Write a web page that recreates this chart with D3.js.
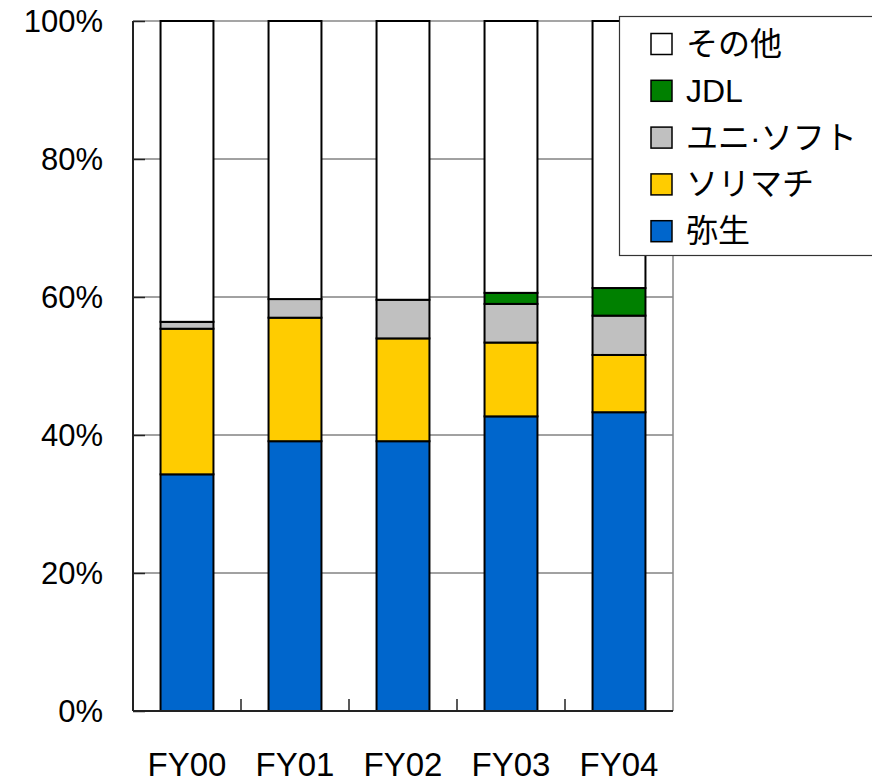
<!DOCTYPE html>
<meta charset="utf-8">
<title>Share</title>
<style>

body {
  margin: 0;
  background: #fff;
}

text {
  font-family: "Liberation Sans", Arial, "Noto Sans CJK JP", sans-serif;
  fill: #000;
}

</style>
<body>
<script src="https://cdn.jsdelivr.net/npm/d3@7"></script>
<script>

var years = ["FY00", "FY01", "FY02", "FY03", "FY04"];

var yayoi     = [34.3, 39.1, 39.1, 42.7, 43.3],
    sorimachi = [21.1, 17.9, 14.9, 10.7, 8.3],
    unisoft   = [1.0, 2.7, 5.6, 5.6, 5.7],
    jdl       = [0, 0, 0, 1.6, 4.0],
    other     = [43.6, 40.3, 40.4, 39.4, 38.7];

var seriesNames = ["弥生", "ソリマチ", "ユニ·ソフト", "JDL", "その他"],
    colors = ["#0066cc", "#ffcc00", "#c0c0c0", "#008000", "#ffffff"];

var yTicks = [0, 20, 40, 60, 80, 100];

var w = 872,
    h = 784,
    pLeft = 133,
    pRight = 673,
    pTop = 21,
    pBottom = 711;

var rows = years.map(function(y, i) {
  return {year: y, s0: yayoi[i], s1: sorimachi[i], s2: unisoft[i], s3: jdl[i], s4: other[i]};
});

var stack = d3.stack().keys(["s0", "s1", "s2", "s3", "s4"]);
var layers = stack(rows);

var x = d3.scaleBand().domain(years).range([pLeft, pRight]).paddingInner(0.51).paddingOuter(0.255);
var y = d3.scaleLinear().domain([0, 100]).range([pBottom, pTop]);

var svg = d3.select("body").append("svg")
    .attr("width", w)
    .attr("height", h);

// gridlines
svg.selectAll("line.grid")
    .data(yTicks.filter(function(d) { return d > 0 && d < 100; }))
  .enter().append("line")
    .attr("x1", pLeft).attr("x2", pRight)
    .attr("y1", y).attr("y2", y)
    .attr("stroke", "#444")
    .attr("stroke-width", 1);

// plot frame (top and right)
svg.append("path")
    .attr("d", "M" + pLeft + "," + pTop + "H" + pRight + "V" + pBottom)
    .attr("fill", "none")
    .attr("stroke", "#888")
    .attr("stroke-width", 1.5);

// bars
svg.selectAll("g.layer")
    .data(layers)
  .enter().append("g")
    .attr("fill", function(d, i) { return colors[i]; })
  .selectAll("rect")
    .data(function(d) { return d.filter(function(v) { return v[1] - v[0] > 0; }); })
  .enter().append("rect")
    .attr("x", function(d) { return x(d.data.year); })
    .attr("width", x.bandwidth())
    .attr("y", function(d) { return y(d[1]); })
    .attr("height", function(d) { return y(d[0]) - y(d[1]); })
    .attr("stroke", "#000")
    .attr("stroke-width", 2);

// y axis
var yAxis = svg.append("g")
    .attr("transform", "translate(" + pLeft + ",0)")
    .call(d3.axisRight(y).tickValues(yTicks).tickSize(12).tickFormat(""));
yAxis.select(".domain").attr("stroke", "#222").attr("stroke-width", 2).attr("d", "M0," + pTop + "V" + pBottom);
yAxis.selectAll(".tick line").attr("stroke", "#222").attr("stroke-width", 1.5);

svg.selectAll("text.ylab")
    .data(yTicks)
  .enter().append("text")
    .attr("x", 103)
    .attr("y", y)
    .attr("dy", "0.36em")
    .attr("text-anchor", "end")
    .style("font-size", "31px")
    .text(function(d) { return d + "%"; });

// x axis
var xStep = x.step();
svg.append("line")
    .attr("x1", pLeft).attr("x2", pRight)
    .attr("y1", pBottom).attr("y2", pBottom)
    .attr("stroke", "#222").attr("stroke-width", 2);

svg.selectAll("line.xtick")
    .data(years.slice(1))
  .enter().append("line")
    .attr("x1", function(d) { return x(d) - x.paddingInner() * xStep / 2; })
    .attr("x2", function(d) { return x(d) - x.paddingInner() * xStep / 2; })
    .attr("y1", pBottom).attr("y2", pBottom - 12)
    .attr("stroke", "#222").attr("stroke-width", 1.5);

svg.selectAll("text.xlab")
    .data(years)
  .enter().append("text")
    .attr("x", function(d) { return x(d) + x.bandwidth() / 2; })
    .attr("y", 776)
    .attr("text-anchor", "middle")
    .style("font-size", "33px")
    .text(function(d) { return d; });

// legend
var legend = svg.append("g");
legend.append("rect")
    .attr("x", 619.5).attr("y", 16.5)
    .attr("width", 270).attr("height", 239)
    .attr("fill", "#fff")
    .attr("stroke", "#333")
    .attr("stroke-width", 1.2);

var items = legend.selectAll("g.item")
    .data(d3.range(seriesNames.length).reverse())
  .enter().append("g")
    .attr("transform", function(d, i) { return "translate(651," + (43.5 + i * 46.8) + ")"; });

items.append("rect")
    .attr("x", 0).attr("y", -10)
    .attr("width", 21).attr("height", 21)
    .attr("fill", function(d) { return colors[d]; })
    .attr("stroke", "#000")
    .attr("stroke-width", 1.5);

items.append("text")
    .attr("x", 35)
    .attr("dy", "0.36em")
    .style("font-size", "32px")
    .text(function(d) { return seriesNames[d]; });

</script>
